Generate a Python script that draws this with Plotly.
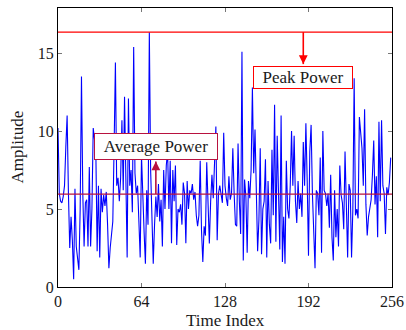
import numpy as np
import plotly.graph_objects as go

# Signal amplitude samples over 256 time steps
amplitude = [
    10.2, 6.0, 5.5, 5.4, 5.8, 6.5, 9.0, 11.0, 6.0, 2.5,
    4.5, 3.0, 0.5, 6.3, 2.6, 2.0, 1.1, 5.0, 13.5, 6.0,
    2.6, 5.4, 5.6, 2.6, 7.7, 2.6, 5.0, 10.2, 9.5, 8.7,
    2.3, 6.5, 1.9, 6.3, 4.8, 5.9, 5.2, 6.1, 4.0, 1.2,
    2.5, 3.5, 4.2, 9.0, 14.4, 6.5, 7.0, 5.5, 7.0, 10.7,
    6.2, 12.2, 7.0, 1.9, 12.1, 6.5, 7.5, 4.8, 15.4, 7.3,
    6.0, 6.5, 4.2, 1.9, 8.4, 5.0, 3.5, 1.5, 6.2, 4.0,
    16.35, 7.5, 3.4, 1.5, 4.0, 5.8, 4.5, 6.6, 4.2, 5.6,
    2.6, 7.5, 5.0, 7.8, 8.7, 5.0, 8.1, 2.8, 7.5, 5.5,
    7.8, 2.7, 5.0, 4.8, 5.3, 4.0, 6.7, 6.0, 2.8, 6.8,
    5.0, 6.2, 6.0, 6.6, 5.6, 6.1, 4.6, 3.9, 4.6, 8.1,
    3.6, 1.6, 3.9, 3.3, 8.0, 5.2, 2.8, 5.5, 7.2, 5.7,
    8.0, 10.3, 3.0, 6.0, 6.5, 6.0, 5.4, 9.9, 6.5, 5.7,
    5.2, 7.1, 5.6, 6.0, 8.9, 6.0, 4.0, 3.9, 9.2, 5.5,
    3.4, 15.1, 1.7, 6.9, 5.8, 2.2, 6.8, 5.7, 7.5, 12.8,
    7.3, 10.1, 6.0, 2.3, 4.3, 8.9, 2.1, 5.0, 5.5, 8.2,
    1.9, 6.8, 4.0, 2.8, 8.8, 4.6, 11.7, 2.9, 9.7, 5.2,
    2.4, 11.0, 1.6, 4.5, 1.5, 8.1, 5.0, 4.4, 6.5, 10.0,
    6.5, 9.7, 5.5, 4.1, 6.8, 5.0, 6.0, 4.5, 9.3, 6.5,
    10.5, 6.8, 2.0, 8.7, 10.4, 6.0, 4.0, 1.2, 6.2, 6.0,
    4.6, 8.3, 2.2, 10.0, 6.2, 6.0, 5.2, 6.0, 3.8, 7.2,
    3.2, 1.7, 6.2, 3.2, 5.0, 2.6, 7.8, 5.9, 5.4, 3.7,
    8.7, 5.0, 1.9, 6.6, 6.2, 1.9, 5.0, 13.4, 4.6, 5.0,
    4.4, 10.9, 9.6, 8.9, 6.5, 11.4, 5.3, 3.3, 4.5, 5.0,
    5.6, 7.2, 9.4, 5.3, 7.1, 3.2, 10.6, 5.5, 10.7, 6.5,
    6.0, 3.4, 6.4, 5.9, 6.7, 8.3,
]
time_index = list(range(len(amplitude)))

x_ticks = [0, 64, 128, 192, 256]
y_ticks = [0, 5, 10, 15]

peak = float(np.max(amplitude))
average = float(np.mean(amplitude))

PEAK_COLOR = "#ff0000"
AVG_COLOR = "#b8123f"
TEXT_COLOR = "#1a1a1a"
FONT = "Liberation Serif"

fig = go.Figure()
fig.add_trace(go.Scatter(
    x=time_index, y=amplitude, mode="lines",
    line=dict(color="#0000ff", width=1.1),
    showlegend=False, hoverinfo="skip",
))

# Reference lines for peak and average power
fig.add_shape(type="line", xref="x", yref="y", x0=0, x1=256, y0=peak, y1=peak,
              line=dict(color=PEAK_COLOR, width=1.4), layer="above")
fig.add_shape(type="line", xref="x", yref="y", x0=0, x1=256, y0=average, y1=average,
              line=dict(color=AVG_COLOR, width=1.4), layer="above")

# Labelled boxes with arrows pointing away from the reference lines
peak_label_x, peak_label_y = 188, 13.43
avg_label_x, avg_label_y = 75, 9.0


def add_arrow(x, y_from, y_to, color):
    fig.add_shape(type="line", xref="x", yref="y", x0=x, x1=x, y0=y_from, y1=y_to,
                  line=dict(color=color, width=1.6), layer="above")
    direction = 1 if y_to > y_from else -1
    fig.add_annotation(x=x, y=y_to, xref="x", yref="y", ax=0, ay=direction * 10,
                       text="", showarrow=True, arrowhead=2, arrowsize=1.1,
                       arrowwidth=1.6, arrowcolor=color, standoff=0,
                       font=dict(size=1), width=1, height=1)


add_arrow(peak_label_x, peak, 14.3, PEAK_COLOR)
add_arrow(avg_label_x, average, 8.05, AVG_COLOR)

fig.add_annotation(x=peak_label_x, y=peak_label_y, xref="x", yref="y",
                   text="Peak Power", showarrow=False,
                   font=dict(family=FONT, size=17, color=TEXT_COLOR),
                   bgcolor="white", bordercolor=PEAK_COLOR, borderwidth=1,
                   borderpad=2, width=94, height=17)
fig.add_annotation(x=avg_label_x, y=avg_label_y, xref="x", yref="y",
                   text="Average Power", showarrow=False,
                   font=dict(family=FONT, size=17, color=TEXT_COLOR),
                   bgcolor="white", bordercolor=AVG_COLOR, borderwidth=1,
                   borderpad=2, width=118, height=21)

# Axis titles
fig.add_annotation(text="Time Index", xref="paper", yref="paper", x=0.5, y=0,
                   yanchor="middle", yshift=-33, showarrow=False,
                   font=dict(family=FONT, size=17, color=TEXT_COLOR))
fig.add_annotation(text="Amplitude", xref="paper", yref="paper", x=0, y=0.5,
                   xanchor="center", xshift=-41, textangle=-90, showarrow=False,
                   font=dict(family=FONT, size=17, color=TEXT_COLOR))

axis_common = dict(
    showline=True, linecolor="black", linewidth=1, mirror="ticks",
    ticks="inside", ticklen=4, tickcolor="#777", tickwidth=1,
    showgrid=False, zeroline=False, automargin=False,
    tickfont=dict(family=FONT, size=16, color=TEXT_COLOR),
)

fig.update_xaxes(range=[0, 256], tickvals=x_ticks, **axis_common)
fig.update_yaxes(range=[0, 17.9], tickvals=y_ticks, **axis_common)

fig.update_layout(
    template="none",
    width=406, height=330,
    margin=dict(l=58, r=14, t=8, b=43),
    paper_bgcolor="white", plot_bgcolor="white",
    font=dict(family=FONT, color=TEXT_COLOR),
    showlegend=False,
)

fig.write_html("out.html")
